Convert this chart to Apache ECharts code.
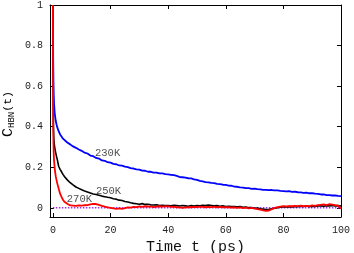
<!DOCTYPE html>
<html>
<head>
<meta charset="utf-8">
<script src="https://cdn.jsdelivr.net/npm/echarts@6/dist/echarts.min.js"></script>
<style>html,body{margin:0;padding:0;background:#fff}#c{width:354px;height:253px}</style>
</head>
<body>
<div id="c"></div>
<script>
var time = [0,0.1,0.2,0.3,0.4,0.6,0.8,1,1.25,1.5,2,2.5,3,3.5,
4,5,6,7,8,9,10,11,12,13,14,15,16,17,18,19,20,21,22,23,24,25,26,27,28,29,30,
31,32,33,34,35,36,37,38,39,40,41,42,43,44,45,46,47,48,49,50,51,52,53,54,55,56,57,58,59,60,
61,62,63,64,65,66,67,68,69,70,71,72,73,74,75,76,77,78,79,80,81,82,83,84,85,86,87,88,89,90,
91,92,93,94,95,96,97,98,99,100];

var c230 = [1,0.74,0.62,0.555,0.515,0.472,0.448,0.428,0.412,0.398,0.378,0.362,0.352,0.341,
0.335,0.322,0.313,0.303,0.296,0.288,0.281,0.272,0.268,0.258,0.255,0.246,0.243,0.234,0.232,0.225,0.223,0.217,0.215,0.209,0.208,0.203,0.201,0.196,0.194,0.19,0.189,
0.184,0.183,0.178,0.178,0.174,0.174,0.17,0.17,0.166,0.165,0.163,0.161,0.158,0.152,0.151,0.149,0.146,0.145,0.141,0.138,0.133,0.131,0.127,0.126,0.123,0.122,0.118,0.117,0.114,0.113,
0.11,0.109,0.105,0.104,0.101,0.1,0.097,0.097,0.094,0.095,0.092,0.091,0.089,0.089,0.087,0.088,0.086,0.086,0.084,0.083,0.081,0.082,0.079,0.08,0.077,0.076,0.074,0.075,0.072,0.072,
0.07,0.069,0.066,0.066,0.063,0.063,0.061,0.061,0.059,0.058];

var c250 = [1,0.55,0.4,0.35,0.325,0.3,0.285,0.27,0.254,0.24,0.205,0.19,0.178,0.165,
0.155,0.138,0.124,0.113,0.103,0.096,0.089,0.083,0.078,0.073,0.068,0.066,0.062,0.058,0.055,0.052,0.05,0.045,0.043,0.038,0.036,0.031,0.029,0.025,0.022,0.02,0.018,
0.021,0.017,0.018,0.015,0.014,0.015,0.012,0.013,0.011,0.012,0.01,0.013,0.011,0.009,0.012,0.01,0.008,0.011,0.009,0.012,0.01,0.013,0.011,0.014,0.012,0.01,0.011,0.008,0.01,0.007,
0.008,0.006,0.007,0.005,0.006,0.003,0.004,0.001,0.002,-0.002,-0.001,-0.004,-0.006,-0.008,-0.007,-0.004,-0.002,0.001,0.003,0.005,0.004,0.006,0.005,0.007,0.006,0.008,0.007,0.009,0.006,0.008,
0.007,0.009,0.01,0.008,0.011,0.009,0.012,0.01,0.011,0.009];

var c270 = [1,0.42,0.32,0.265,0.235,0.2,0.175,0.155,0.138,0.122,0.095,0.07,0.054,0.04,
0.03,0.02,0.012,0.011,0.01,0.012,0.011,0.013,0.014,0.017,0.02,0.019,0.015,0.01,0.006,0.003,0.0,-0.003,-0.005,-0.002,-0.005,-0.001,0.002,0.001,0.005,0.004,0.007,
0.005,0.008,0.006,0.007,0.004,0.006,0.008,0.006,0.009,0.007,0.005,0.006,0.003,0.002,0.0,0.002,0.004,0.003,0.005,0.004,0.006,0.005,0.003,0.005,0.004,0.006,0.003,0.005,0.002,0.004,
0.003,0.001,0.003,0.0,0.002,-0.001,0.001,-0.002,0.0,-0.004,-0.006,-0.009,-0.012,-0.015,-0.013,-0.006,0.0,0.004,0.006,0.008,0.007,0.009,0.008,0.01,0.009,0.011,0.008,0.01,0.009,0.012,
0.01,0.013,0.015,0.017,0.014,0.018,0.016,0.013,0.011,-0.004];

var baseline = [[0,0],[100,0]];
var seriesNames = ['230K','250K','270K'];
var labelAnchors = [[19,0.267],[19.3,0.084],[9.2,0.044]];
var xTicks = [0,20,40,60,80,100];
var yTicks = [0,0.2,0.4,0.6,0.8,1];

function pairs(ys){ return time.map(function(t,i){ return [t, ys[i]]; }); }

var FONT = '"Liberation Mono", "DejaVu Sans Mono", monospace';
var chart = echarts.init(document.getElementById('c'), null, {renderer:'canvas'});

function xAx(pos, lab){
  return {type:'value', min:-1, max:100, position:pos,
    axisLine:{show:true, onZero:false, lineStyle:{color:'#000', width:1}},
    axisTick:{show:true, inside:true, length:4, customValues:xTicks, lineStyle:{color:'#000'}},
    axisLabel:{show:lab, customValues:xTicks, fontFamily:FONT, fontSize:10, color:'#222', margin:8},
    splitLine:{show:false},
    name: lab ? 'Time t (ps)' : '', nameLocation:'middle', nameGap:21,
    nameTextStyle:{fontFamily:FONT, fontSize:15, color:'#111'}};
}
function yAx(pos, lab){
  return {type:'value', min:-0.045, max:1, position:pos,
    axisLine:{show:true, onZero:false, lineStyle:{color:'#000', width:1}},
    axisTick:{show:true, inside:true, length:4, customValues:yTicks, lineStyle:{color:'#000'}},
    axisLabel:{show:lab, customValues:yTicks, fontFamily:FONT, fontSize:10, color:'#222', margin:7},
    splitLine:{show:false}};
}

chart.setOption({
  animation:false,
  grid:{left:50, right:13, top:5, bottom:36, containLabel:false, outerBoundsMode:'none'},
  xAxis:[xAx('bottom', true), xAx('top', false)],
  yAxis:[yAx('left', true), yAx('right', false)],
  graphic:[{
    type:'text', x:8, y:114, rotation:Math.PI/2,
    style:{
      text:'{c|C}{s|HBN}{t|(t)}',
      align:'center', verticalAlign:'middle',
      rich:{
        c:{fontFamily:FONT, fontSize:15, color:'#111', lineHeight:17, verticalAlign:'middle'},
        s:{fontFamily:FONT, fontSize:9, color:'#111', lineHeight:9, verticalAlign:'bottom'},
        t:{fontFamily:FONT, fontSize:11.5, color:'#111', lineHeight:17, verticalAlign:'middle'}
      }
    }
  }],
  series:[
    {type:'line', data:baseline, symbol:'none', silent:true,
      lineStyle:{color:'#9933ee', width:1.5, type:'dotted'}},
    {type:'line', name:seriesNames[1], data:pairs(c250), symbol:'none', silent:true,
      lineStyle:{color:'#000000', width:1.6}},
    {type:'line', name:seriesNames[0], data:pairs(c230), symbol:'none', silent:true,
      lineStyle:{color:'#0000ff', width:1.8}},
    {type:'line', name:seriesNames[2], data:pairs(c270), symbol:'none', silent:true,
      lineStyle:{color:'#ff0000', width:1.8}},
    {type:'scatter', symbolSize:0, silent:true, z:10,
      data: labelAnchors.map(function(p,i){ return {value:p, name:seriesNames[i]}; }),
      label:{show:true, position:'inside', formatter:'{b}', fontFamily:FONT, fontSize:10.5, color:'#222'}}
  ]
});
</script>
</body>
</html>
